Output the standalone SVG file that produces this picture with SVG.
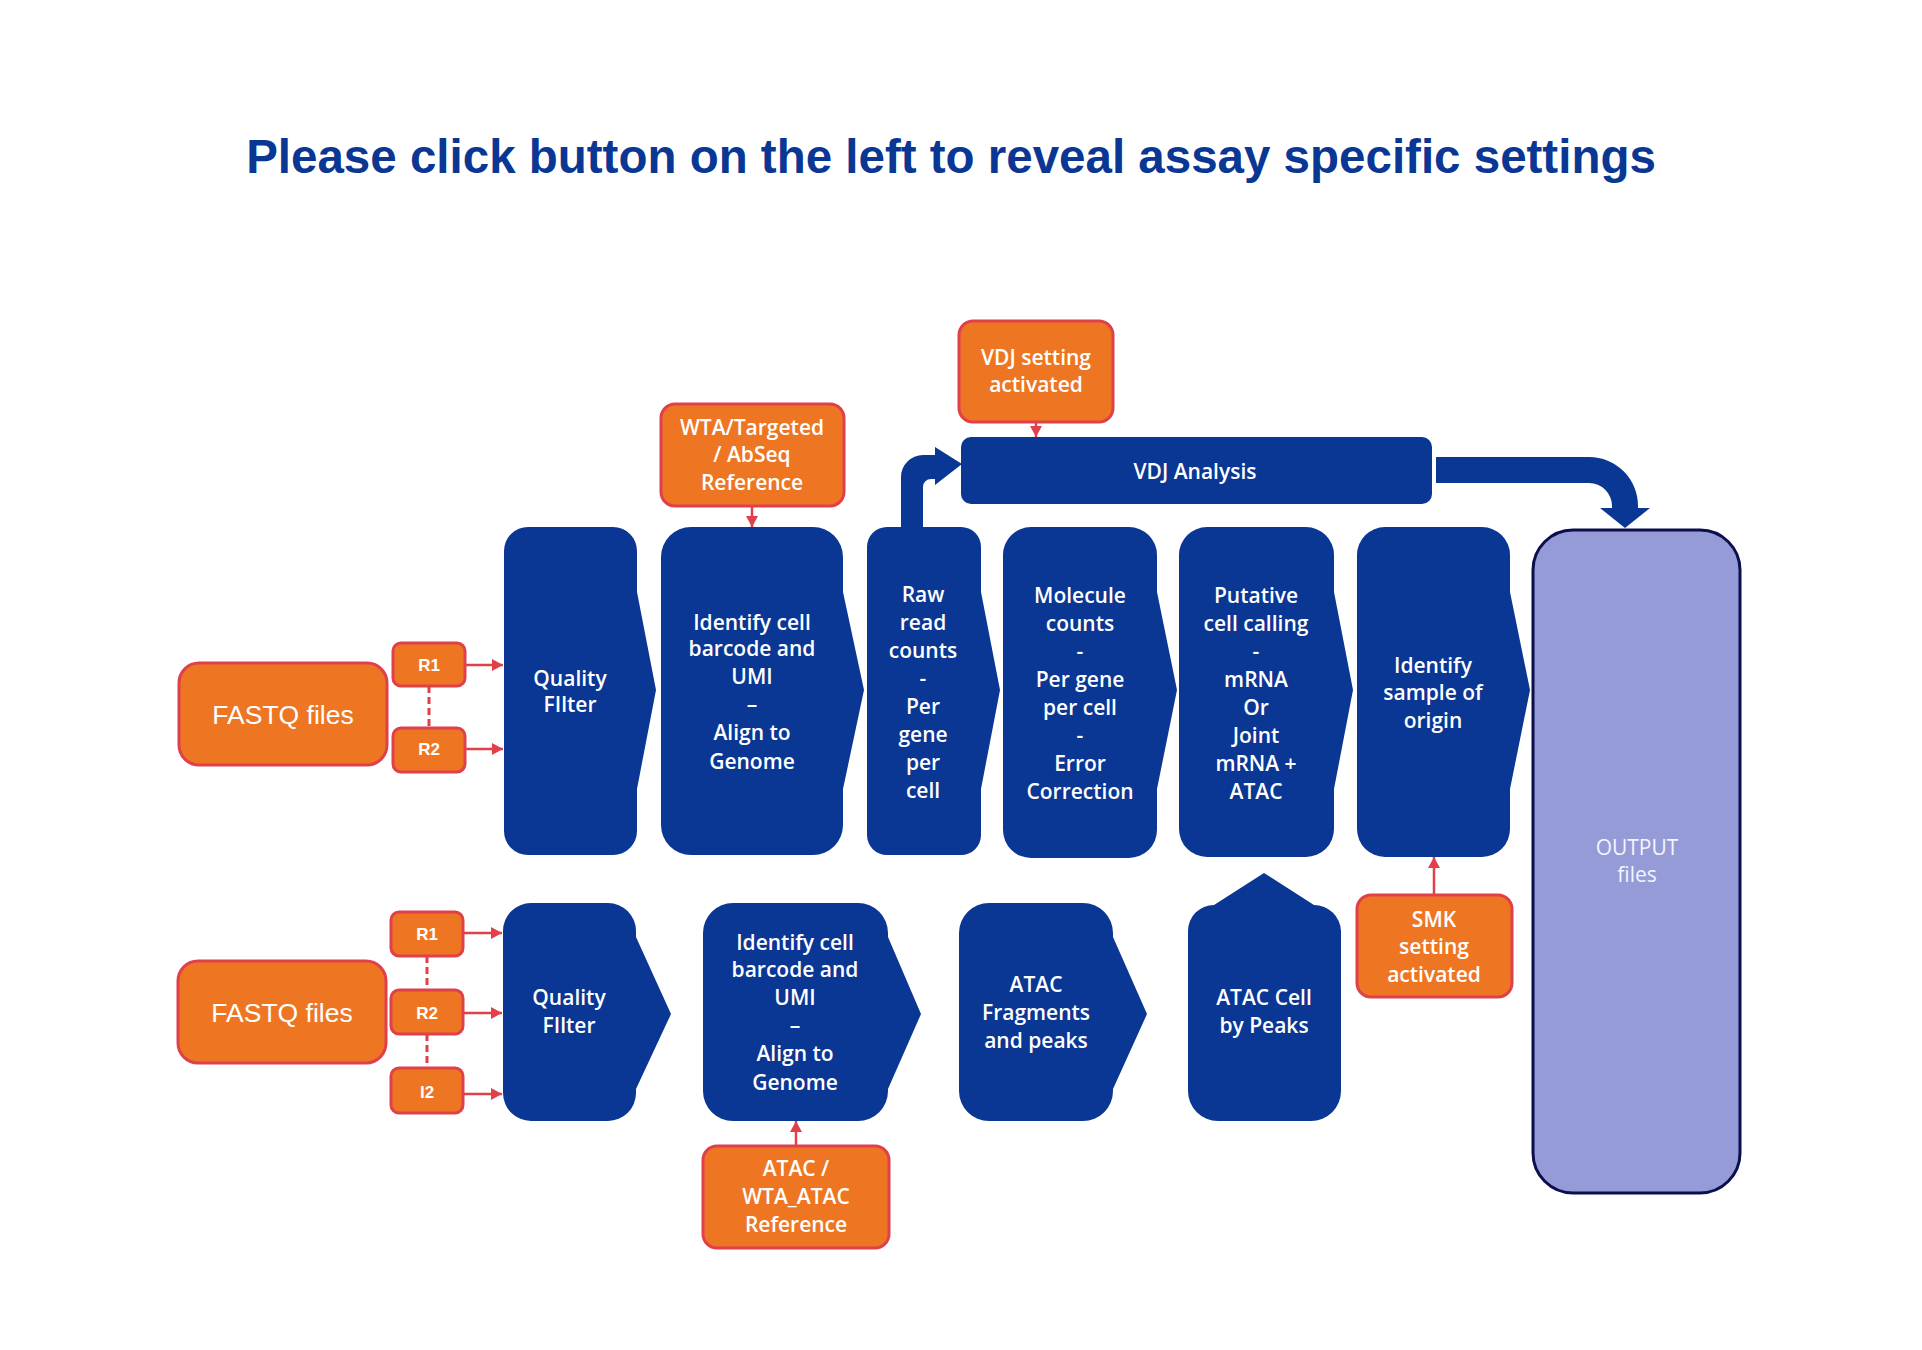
<svg xmlns="http://www.w3.org/2000/svg" width="1922" height="1350" viewBox="0 0 1922 1350">
<defs>
<style>
.node{fill:#0A3694}
.set{fill:#EE7623;stroke:#E0404A;stroke-width:3}
.out{fill:#949BD6;stroke:#0B0F4D;stroke-width:3}
.lbl{font-family:"Open Sans","Noto Sans",sans-serif;font-size:21px;font-weight:600;fill:#FFFFFF;text-anchor:middle}
.big{font-family:"Liberation Sans",Arial,sans-serif;font-size:26.5px;fill:#FFFFFF;text-anchor:middle}
.rl{font-family:"Liberation Sans",Arial,sans-serif;font-size:17px;font-weight:bold;fill:#FFFFFF;text-anchor:middle}
.conn{stroke:#E0404A;stroke-width:2.5;fill:none}
.arr{marker-end:url(#ah)}
.dash{stroke-dasharray:7 4;stroke-width:3}
</style>
<marker id="ah" markerUnits="userSpaceOnUse" markerWidth="12" markerHeight="12" refX="11" refY="6" orient="auto">
<path d="M0,0 L11,6 L0,12 Z" fill="#E0404A"/>
</marker>
</defs>
<rect width="1922" height="1350" fill="#FFFFFF"/>
<text x="951" y="173" font-family="'Liberation Sans',Arial,sans-serif" font-size="47.5" font-weight="bold" fill="#0A3694" text-anchor="middle">Please click button on the left to reveal assay specific settings</text>

<g id="connectors">
<line class="conn arr" x1="465" y1="665" x2="503" y2="665"/>
<line class="conn arr" x1="465" y1="749" x2="503" y2="749"/>
<line class="conn dash" x1="429" y1="686" x2="429" y2="728"/>
<line class="conn arr" x1="463" y1="933" x2="502" y2="933"/>
<line class="conn arr" x1="463" y1="1013" x2="502" y2="1013"/>
<line class="conn arr" x1="463" y1="1094" x2="502" y2="1094"/>
<line class="conn dash" x1="427" y1="956" x2="427" y2="990"/>
<line class="conn dash" x1="427" y1="1034" x2="427" y2="1068"/>
<line class="conn arr" x1="752" y1="506" x2="752" y2="527"/>
<line class="conn arr" x1="1036" y1="422" x2="1036" y2="437"/>
<line class="conn arr" x1="796" y1="1146" x2="796" y2="1121"/>
<line class="conn arr" x1="1434" y1="895" x2="1434" y2="857"/>
<path class="node" d="M901,527 V477 A22,22 0 0 1 923,455 H935 V447 L962,464 L935,485 V479 H931 A8,8 0 0 0 923,487 V527 Z"/>
<path class="node" d="M1436,457 H1589 A49,49 0 0 1 1638,506 V508 H1650 L1625,528 L1600,508 H1612 V506 A23,23 0 0 0 1589,483 H1436 Z"/>
</g>

<g id="fastq-top">
<rect class="set" x="179" y="663" width="208" height="102" rx="20"/>
<text class="big" x="283" y="724">FASTQ files</text>
</g>
<g id="r1-top"><rect class="set" x="393" y="643" width="72" height="43" rx="8"/><text class="rl" x="429" y="671">R1</text></g>
<g id="r2-top"><rect class="set" x="393" y="728" width="72" height="44" rx="8"/><text class="rl" x="429" y="755">R2</text></g>

<g id="quality-top">
<path class="node" d="M528,527 H613 A24,24 0 0 1 637,551 V592 L656,690 L637,789 V831 A24,24 0 0 1 613,855 H528 A24,24 0 0 1 504,831 V551 A24,24 0 0 1 528,527 Z"/>
<text class="lbl" x="570" y="686">Quality</text>
<text class="lbl" x="570" y="712">FIlter</text>
</g>

<g id="wta-ref">
<rect class="set" x="661" y="404" width="183" height="102" rx="14"/>
<text class="lbl" x="752" y="435">WTA/Targeted</text>
<text class="lbl" x="752" y="462">/ AbSeq</text>
<text class="lbl" x="752" y="490">Reference</text>
</g>

<g id="identify-top">
<path class="node" d="M691,527 H813 A30,30 0 0 1 843,557 V592 L864,690 L843,789 V825 A30,30 0 0 1 813,855 H691 A30,30 0 0 1 661,825 V557 A30,30 0 0 1 691,527 Z"/>
<text class="lbl" x="752" y="630">Identify cell</text>
<text class="lbl" x="752" y="656">barcode and</text>
<text class="lbl" x="752" y="684">UMI</text>
<text class="lbl" x="752" y="712">–</text>
<text class="lbl" x="752" y="740">Align to</text>
<text class="lbl" x="752" y="769">Genome</text>
</g>

<g id="vdj-setting">
<rect class="set" x="959" y="321" width="154" height="101" rx="14"/>
<text class="lbl" x="1036" y="365">VDJ setting</text>
<text class="lbl" x="1036" y="392">activated</text>
</g>

<g id="vdj-analysis">
<rect class="node" x="961" y="437" width="471" height="67" rx="10"/>
<text class="lbl" x="1195" y="479">VDJ Analysis</text>
</g>

<g id="raw-counts">
<path class="node" d="M887,527 H961 A20,20 0 0 1 981,547 V592 L1000,690 L981,789 V835 A20,20 0 0 1 961,855 H887 A20,20 0 0 1 867,835 V547 A20,20 0 0 1 887,527 Z"/>
<text class="lbl" x="923" y="602">Raw</text>
<text class="lbl" x="923" y="630">read</text>
<text class="lbl" x="923" y="658">counts</text>
<text class="lbl" x="923" y="686">-</text>
<text class="lbl" x="923" y="714">Per</text>
<text class="lbl" x="923" y="742">gene</text>
<text class="lbl" x="923" y="770">per</text>
<text class="lbl" x="923" y="798">cell</text>
</g>

<g id="molecule-counts">
<path class="node" d="M1031,527 H1129 A28,28 0 0 1 1157,555 V592 L1177,690 L1157,789 V830 A28,28 0 0 1 1129,858 H1031 A28,28 0 0 1 1003,830 V555 A28,28 0 0 1 1031,527 Z"/>
<text class="lbl" x="1080" y="603">Molecule</text>
<text class="lbl" x="1080" y="631">counts</text>
<text class="lbl" x="1080" y="659">-</text>
<text class="lbl" x="1080" y="687">Per gene</text>
<text class="lbl" x="1080" y="715">per cell</text>
<text class="lbl" x="1080" y="743">-</text>
<text class="lbl" x="1080" y="771">Error</text>
<text class="lbl" x="1080" y="799">Correction</text>
</g>

<g id="putative-cell">
<path class="node" d="M1207,527 H1306 A28,28 0 0 1 1334,555 V592 L1353,690 L1334,789 V829 A28,28 0 0 1 1306,857 H1207 A28,28 0 0 1 1179,829 V555 A28,28 0 0 1 1207,527 Z"/>
<text class="lbl" x="1256" y="603">Putative</text>
<text class="lbl" x="1256" y="631">cell calling</text>
<text class="lbl" x="1256" y="659">-</text>
<text class="lbl" x="1256" y="687">mRNA</text>
<text class="lbl" x="1256" y="715">Or</text>
<text class="lbl" x="1256" y="743">Joint</text>
<text class="lbl" x="1256" y="771">mRNA +</text>
<text class="lbl" x="1256" y="799">ATAC</text>
</g>

<g id="sample-origin">
<path class="node" d="M1385,527 H1482 A28,28 0 0 1 1510,555 V592 L1530,690 L1510,789 V829 A28,28 0 0 1 1482,857 H1385 A28,28 0 0 1 1357,829 V555 A28,28 0 0 1 1385,527 Z"/>
<text class="lbl" x="1433" y="673">Identify</text>
<text class="lbl" x="1433" y="700">sample of</text>
<text class="lbl" x="1433" y="728">origin</text>
</g>

<g id="output">
<rect class="out" x="1533" y="530" width="207" height="663" rx="40"/>
<text class="lbl" x="1637" y="855" style="font-weight:500;fill:#F4F4FF">OUTPUT</text>
<text class="lbl" x="1637" y="882" style="font-weight:500;fill:#F4F4FF">files</text>
</g>

<g id="smk-setting">
<rect class="set" x="1357" y="895" width="155" height="102" rx="14"/>
<text class="lbl" x="1434" y="927">SMK</text>
<text class="lbl" x="1434" y="954">setting</text>
<text class="lbl" x="1434" y="982">activated</text>
</g>

<g id="fastq-bottom">
<rect class="set" x="178" y="961" width="208" height="102" rx="20"/>
<text class="big" x="282" y="1022">FASTQ files</text>
</g>
<g id="r1-bottom"><rect class="set" x="391" y="912" width="72" height="44" rx="8"/><text class="rl" x="427" y="940">R1</text></g>
<g id="r2-bottom"><rect class="set" x="391" y="990" width="72" height="44" rx="8"/><text class="rl" x="427" y="1019">R2</text></g>
<g id="i2-bottom"><rect class="set" x="391" y="1068" width="72" height="45" rx="8"/><text class="rl" x="427" y="1098">I2</text></g>

<g id="quality-bottom">
<path class="node" d="M531,903 H608 A28,28 0 0 1 636,931 V937 L671,1014 L636,1089 V1093 A28,28 0 0 1 608,1121 H531 A28,28 0 0 1 503,1093 V931 A28,28 0 0 1 531,903 Z"/>
<text class="lbl" x="569" y="1005">Quality</text>
<text class="lbl" x="569" y="1033">FIlter</text>
</g>

<g id="identify-bottom">
<path class="node" d="M733,903 H858 A30,30 0 0 1 888,933 V937 L921,1014 L888,1089 V1091 A30,30 0 0 1 858,1121 H733 A30,30 0 0 1 703,1091 V933 A30,30 0 0 1 733,903 Z"/>
<text class="lbl" x="795" y="950">Identify cell</text>
<text class="lbl" x="795" y="977">barcode and</text>
<text class="lbl" x="795" y="1005">UMI</text>
<text class="lbl" x="795" y="1033">–</text>
<text class="lbl" x="795" y="1061">Align to</text>
<text class="lbl" x="795" y="1090">Genome</text>
</g>

<g id="atac-ref">
<rect class="set" x="703" y="1146" width="186" height="102" rx="14"/>
<text class="lbl" x="796" y="1176">ATAC /</text>
<text class="lbl" x="796" y="1204">WTA_ATAC</text>
<text class="lbl" x="796" y="1232">Reference</text>
</g>

<g id="atac-fragments">
<path class="node" d="M989,903 H1083 A30,30 0 0 1 1113,933 V937 L1147,1014 L1113,1089 V1091 A30,30 0 0 1 1083,1121 H989 A30,30 0 0 1 959,1091 V933 A30,30 0 0 1 989,903 Z"/>
<text class="lbl" x="1036" y="992">ATAC</text>
<text class="lbl" x="1036" y="1020">Fragments</text>
<text class="lbl" x="1036" y="1048">and peaks</text>
</g>

<g id="atac-cell-peaks">
<path class="node" d="M1188,931 A26,26 0 0 1 1214,905 L1264,873 L1314,905 A27,27 0 0 1 1341,931 V1091 A30,30 0 0 1 1311,1121 H1218 A30,30 0 0 1 1188,1091 Z"/>
<text class="lbl" x="1264" y="1005">ATAC Cell</text>
<text class="lbl" x="1264" y="1033">by Peaks</text>
</g>
</svg>
